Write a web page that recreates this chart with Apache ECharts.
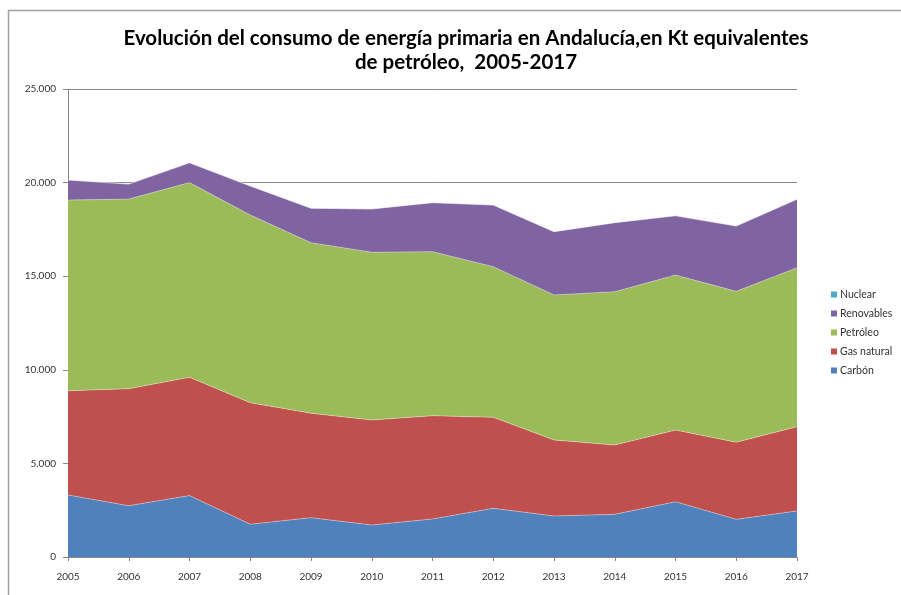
<!DOCTYPE html>
<html>
<head>
<meta charset="utf-8">
<script src="https://cdn.jsdelivr.net/npm/echarts@6/dist/echarts.min.js"></script>
<style>
  html, body { margin: 0; padding: 0; background: #ffffff; }
  #chart { width: 901px; height: 595px; }
</style>
</head>
<body>
<div id="chart"></div>
<script>
// Consumo de energía primaria en Andalucía (ktep), 2005-2017
const years = ['2005','2006','2007','2008','2009','2010','2011','2012','2013','2014','2015','2016','2017'];
const carbon      = [3310, 2740, 3280, 1750, 2100, 1710, 2030, 2600, 2190, 2280, 2950, 2010, 2460];
const gasNatural  = [5570, 6250, 6320, 6490, 5580, 5610, 5520, 4860, 4060, 3700, 3830, 4120, 4500];
const petroleo    = [10190, 10130, 10400, 10030, 9110, 8960, 8760, 8050, 7750, 8190, 8280, 8060, 8490];
const renovables  = [1070, 800, 1060, 1550, 1840, 2310, 2620, 3290, 3380, 3690, 3170, 3490, 3660];
const nuclear     = [0, 0, 0, 0, 0, 0, 0, 0, 0, 0, 0, 0, 0];
const yTicks = { min: 0, max: 25000, step: 5000 };

const FONT = 'Lato, "Open Sans", sans-serif';

function areaSeries(name, data, color) {
  return {
    name: name,
    type: 'line',
    stack: 'total',
    data: data,
    symbol: 'none',
    smooth: false,
    itemStyle: { color: color },
    lineStyle: { width: 1, color: 'rgba(255,255,255,0.35)' },
    areaStyle: { color: color, opacity: 1 }
  };
}

const chart = echarts.init(document.getElementById('chart'), null, { renderer: 'canvas' });

chart.setOption({
  backgroundColor: '#ffffff',
  animation: false,
  title: {
    text: 'Evolución del consumo de energía primaria en Andalucía,en Kt equivalentes\nde petróleo,  2005-2017',
    left: 461,
    top: 21,
    textAlign: 'center',
    textStyle: {
      fontFamily: FONT,
      fontSize: 20.5,
      fontWeight: 'bold',
      color: '#000000',
      lineHeight: 24
    }
  },
  graphic: [{
    type: 'rect',
    shape: { x: 8.5, y: 10.5, width: 900, height: 600 },
    style: { fill: 'none', stroke: '#a0a0a0', lineWidth: 1.5 },
    silent: true,
    z: -1
  }],
  legend: {
    orient: 'vertical',
    left: 826,
    top: 284,
    itemWidth: 6,
    itemHeight: 6,
    itemGap: 8,
    icon: 'rect',
    data: ['Nuclear', 'Renovables', 'Petróleo', 'Gas natural', 'Carbón'],
    textStyle: { fontFamily: FONT, fontSize: 10.5, color: '#333333', padding: [0, 0, 0, -2] }
  },
  grid: { left: 68, right: 104, top: 89, bottom: 38, containLabel: false },
  xAxis: {
    type: 'category',
    data: years,
    boundaryGap: false,
    axisLine: { lineStyle: { color: '#888888', width: 1 } },
    axisTick: { show: true, alignWithLabel: true, length: 4, lineStyle: { color: '#888888' } },
    axisLabel: { fontFamily: FONT, fontSize: 10, color: '#333333', margin: 15 },
    splitLine: { show: false }
  },
  yAxis: {
    type: 'value',
    min: yTicks.min,
    max: yTicks.max,
    interval: yTicks.step,
    axisLine: { show: true, lineStyle: { color: '#888888', width: 1 } },
    axisTick: { show: true, inside: false, length: 5, lineStyle: { color: '#888888' } },
    axisLabel: {
      fontFamily: FONT,
      fontSize: 10,
      color: '#333333',
      margin: 12,
      formatter: function (v) { return v.toLocaleString('de-DE'); }
    },
    splitLine: { show: true, lineStyle: { color: '#8c8c8c', width: 1 } }
  },
  series: [
    areaSeries('Carbón', carbon, '#4F81BD'),
    areaSeries('Gas natural', gasNatural, '#C0504D'),
    areaSeries('Petróleo', petroleo, '#9BBB59'),
    areaSeries('Renovables', renovables, '#8064A2'),
    areaSeries('Nuclear', nuclear, '#4BACC6')
  ]
});
</script>
</body>
</html>
